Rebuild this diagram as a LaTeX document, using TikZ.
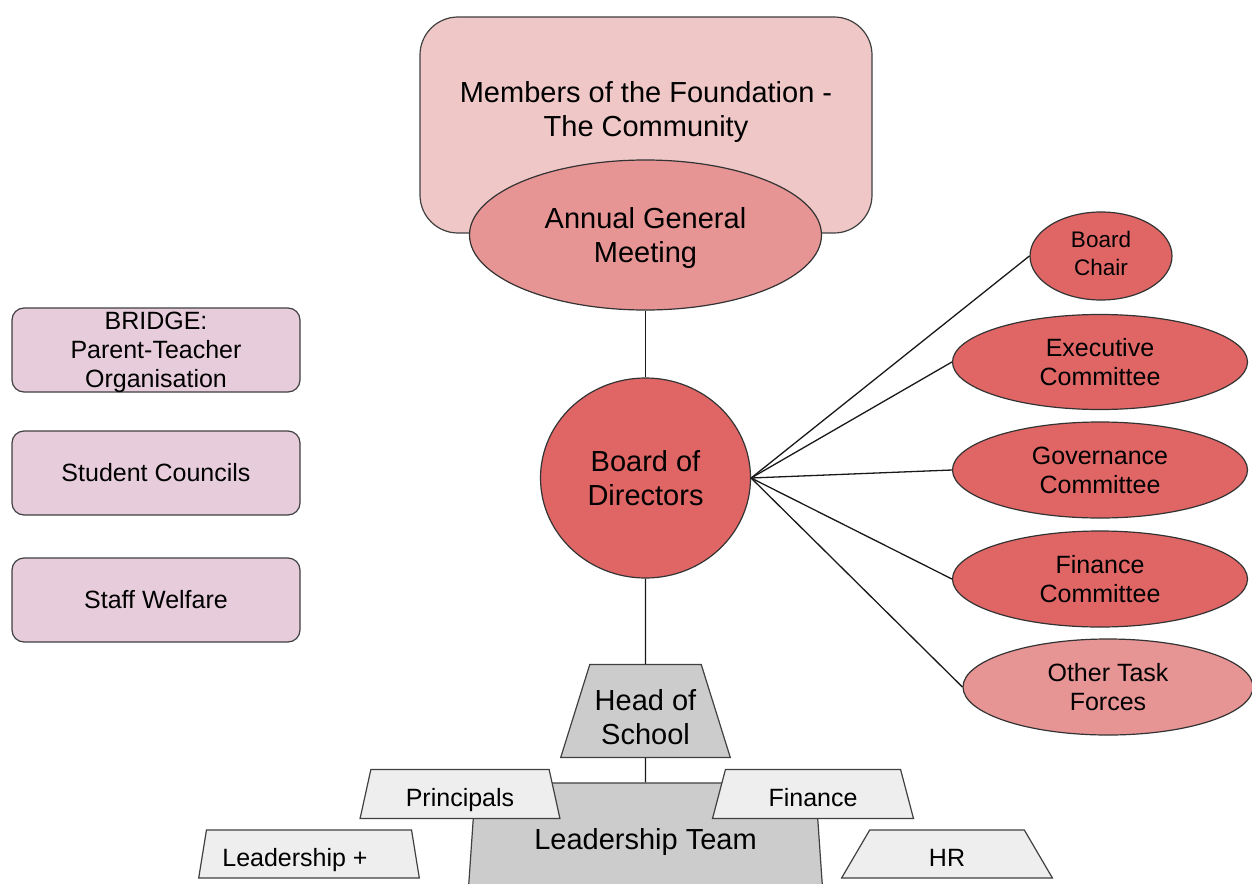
\documentclass[tikz,border=0pt]{standalone}
\usepackage{fontspec}
\setmainfont{Liberation Sans}
\usetikzlibrary{shapes.geometric}
\definecolor{memberpink}{HTML}{F0C7C7}
\definecolor{agmpink}{HTML}{E79494}
\definecolor{boardred}{HTML}{E06666}
\definecolor{sidepurple}{HTML}{E7CDDB}
\definecolor{headgray}{HTML}{CCCCCC}
\definecolor{teamgray}{HTML}{EEEEEE}

\begin{document}
\begin{tikzpicture}[x=1pt,y=-1pt,line width=1.2pt,
    big/.style={font=\fontsize{29}{34}\selectfont,align=center},
    mid/.style={font=\fontsize{25}{29}\selectfont,align=center},
    redoval/.style={ellipse,draw=black!80,fill=boardred,inner sep=0pt,mid},
    sidebox/.style={rectangle,rounded corners=12pt,draw=black!75,fill=sidepurple,inner sep=0pt,minimum width=288pt,minimum height=84pt,mid},
    trap/.style={trapezium,trapezium stretches=true,draw=black!75,inner sep=0pt},
    teambox/.style={trap,fill=teamgray,trapezium angle=75,mid,text height=24.5pt,text depth=0pt},
    link/.style={draw=black!90,line width=1.3pt}]
\useasboundingbox (0,0) rectangle (1252,883);
\node (members) at (646,125) [rectangle,rounded corners=38pt,draw=black!75,fill=memberpink,minimum width=452pt,minimum height=216pt,
    label={[big,yshift=13pt]center:{Members of the Foundation -\\The Community}}] {};
\node (agm) at (645.5,235) [ellipse,draw=black!80,fill=agmpink,minimum width=352pt,minimum height=150pt,inner sep=0pt,big] {\rule{0pt}{27pt}Annual General\\Meeting};
\node (board) at (645.5,478) [ellipse,draw=black!80,fill=boardred,minimum width=210pt,minimum height=200pt,inner sep=0pt,big] {Board of\\Directors};
% committees
\node (chair)  at (1101,256) [redoval,minimum width=142pt,minimum height=88pt,font=\fontsize{22.5}{28}\selectfont] {Board\\Chair\rule[-6pt]{0pt}{0pt}};
\node (exec)   at (1100,362) [redoval,minimum width=295pt,minimum height=95pt] {Executive\\Committee};
\node (gov)    at (1100,470) [redoval,minimum width=295pt,minimum height=96pt] {Governance\\Committee};
\node (fincom) at (1100,579) [redoval,minimum width=295pt,minimum height=96pt] {Finance\\Committee};
\node (tasks)  at (1108,687) [redoval,fill=agmpink,minimum width=290pt,minimum height=96pt] {Other Task\\Forces};
% side groups
\node (bridge)   at (156,350) [sidebox,text depth=0pt] {BRIDGE:\\Parent-Teacher\\Organisation};
\node (students) at (156,473) [sidebox] {Student Councils};
\node (welfare)  at (156,600) [sidebox] {Staff Welfare};
% school
\node (lt)  at (645.5,839) [trap,fill=headgray,trapezium angle=76.5,minimum width=356pt,minimum height=112pt,big,text height=21pt,text depth=0pt] {Leadership Team};
\node (principals) at (460,794) [teambox,minimum width=200pt,minimum height=49pt] {Principals};
\node (finance)    at (813,794) [teambox,minimum width=201pt,minimum height=49pt] {Finance};
\node (leadplus)   at (309,854) [teambox,minimum width=221pt,minimum height=48pt] {Leadership +\hspace*{28pt}};
\node (hr)         at (947,854) [teambox,minimum width=211pt,minimum height=48pt] {HR};
\node (hos) at (645.5,711) [trap,fill=headgray,trapezium angle=68.5,minimum width=170pt,minimum height=93pt,big] {\rule{0pt}{33pt}Head of\\School};
\path [link] (agm.south) -- (board.north);
\path [link] (board.south) -- (hos.north);
\path [link] (hos.south) -- (lt.north);
\foreach \c in {chair,exec,gov,fincom,tasks}
    \path [link] (board.east) -- (\c.west);
\end{tikzpicture}
\end{document}
